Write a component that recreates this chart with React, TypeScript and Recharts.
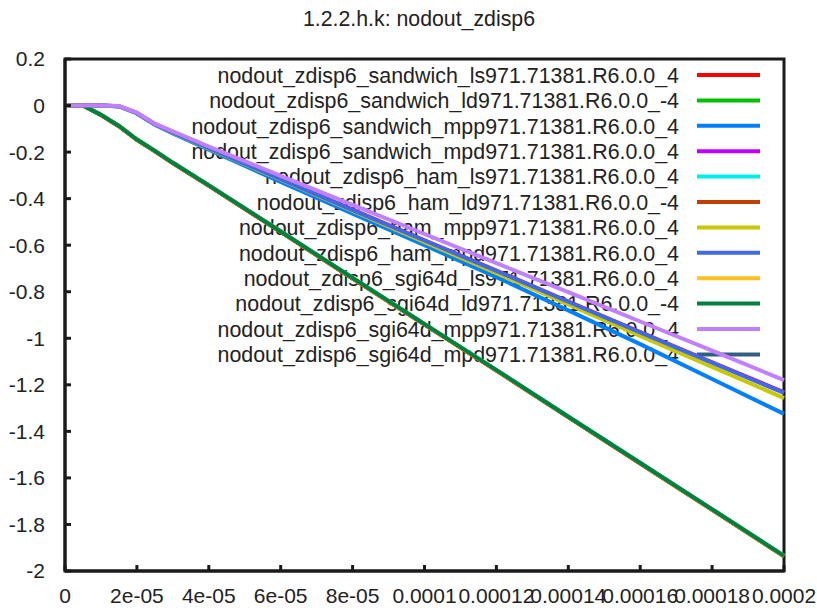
import React from 'react';
import { LineChart, Line, XAxis, YAxis, ReferenceArea } from 'recharts';

const FONT = '"Liberation Sans", Arial, Helvetica, sans-serif';

const tValues = [0, 0.5e-5, 1e-5, 1.5e-5, 2e-5, 2.5e-5, 3e-5, 4e-5, 6e-5, 8e-5, 1e-4, 1.2e-4, 1.4e-4, 1.6e-4, 1.8e-4, 2e-4];

const xTicks = [0, 2e-5, 4e-5, 6e-5, 8e-5, 1e-4, 1.2e-4, 1.4e-4, 1.6e-4, 1.8e-4, 2e-4];
const xTickLabels = ['0', '2e-05', '4e-05', '6e-05', '8e-05', '0.0001', '0.00012', '0.00014', '0.00016', '0.00018', '0.0002'];
const yTicks = [0.2, 0, -0.2, -0.4, -0.6, -0.8, -1, -1.2, -1.4, -1.6, -1.8, -2];
const yTickLabels = ['0.2', '0', '-0.2', '-0.4', '-0.6', '-0.8', '-1', '-1.2', '-1.4', '-1.6', '-1.8', '-2'];

const seriesNames = [
  'nodout_zdisp6_sandwich_ls971.71381.R6.0.0_4',
  'nodout_zdisp6_sandwich_ld971.71381.R6.0.0_-4',
  'nodout_zdisp6_sandwich_mpp971.71381.R6.0.0_4',
  'nodout_zdisp6_sandwich_mpd971.71381.R6.0.0_4',
  'nodout_zdisp6_ham_ls971.71381.R6.0.0_4',
  'nodout_zdisp6_ham_ld971.71381.R6.0.0_-4',
  'nodout_zdisp6_ham_mpp971.71381.R6.0.0_4',
  'nodout_zdisp6_ham_mpd971.71381.R6.0.0_4',
  'nodout_zdisp6_sgi64d_ls971.71381.R6.0.0_4',
  'nodout_zdisp6_sgi64d_ld971.71381.R6.0.0_-4',
  'nodout_zdisp6_sgi64d_mpp971.71381.R6.0.0_4',
  'nodout_zdisp6_sgi64d_mpd971.71381.R6.0.0_4',
];

const seriesColors = [
  '#ff0000', '#00c000', '#0080ff', '#c000ff', '#00eeee', '#c04000',
  '#c8c800', '#4169e1', '#ffc020', '#008040', '#c080ff', '#306080',
];

const sandwichLs = [0, 0, -0.041, -0.089, -0.147, -0.196, -0.247, -0.344, -0.543, -0.743, -0.941, -1.139, -1.339, -1.538, -1.737, -1.937];
const sandwichLd = [0, 0, -0.04, -0.088, -0.146, -0.195, -0.246, -0.343, -0.541, -0.741, -0.939, -1.137, -1.337, -1.536, -1.735, -1.935];
const sandwichMpp = [0, 0, 0, -0.004, -0.034, -0.083, -0.12, -0.19, -0.328, -0.465, -0.6, -0.737, -0.88, -1.025, -1.175, -1.325];
const sandwichMpd = [0, 0, 0, -0.003, -0.032, -0.08, -0.116, -0.182, -0.315, -0.447, -0.579, -0.709, -0.842, -0.973, -1.103, -1.232];
const hamLs = [0, 0, -0.039, -0.087, -0.145, -0.194, -0.245, -0.342, -0.54, -0.74, -0.938, -1.136, -1.336, -1.535, -1.734, -1.934];
const hamLd = [0, 0, -0.041, -0.089, -0.147, -0.197, -0.248, -0.345, -0.543, -0.743, -0.941, -1.139, -1.339, -1.538, -1.737, -1.937];
const hamMpp = [0, 0, 0, -0.003, -0.032, -0.08, -0.117, -0.185, -0.319, -0.453, -0.587, -0.72, -0.855, -0.99, -1.123, -1.257];
const hamMpd = [0, 0, 0, -0.003, -0.032, -0.08, -0.116, -0.183, -0.316, -0.449, -0.58, -0.71, -0.843, -0.975, -1.105, -1.235];
const sgi64dLs = [0, 0, -0.04, -0.088, -0.146, -0.195, -0.246, -0.343, -0.541, -0.742, -0.94, -1.138, -1.338, -1.537, -1.736, -1.936];
const sgi64dLd = [0, 0, -0.04, -0.088, -0.146, -0.195, -0.246, -0.343, -0.541, -0.741, -0.939, -1.137, -1.337, -1.536, -1.735, -1.935];
const sgi64dMpp = [0, 0, 0, -0.002, -0.03, -0.078, -0.111, -0.176, -0.302, -0.427, -0.552, -0.677, -0.802, -0.928, -1.053, -1.18];
const sgi64dMpd = [0, null, null, null, null, null, null, null, null, null, null, null, null, null, null, null];

const seriesValues = [
  sandwichLs, sandwichLd, sandwichMpp, sandwichMpd,
  hamLs, hamLd, hamMpp, hamMpd,
  sgi64dLs, sgi64dLd, sgi64dMpp, sgi64dMpd,
];

const data = tValues.map((t, i) => {
  const row: Record<string, number | null> = { t };
  seriesNames.forEach((n, k) => {
    row[n] = seriesValues[k][i];
  });
  return row;
});

const fmtX = (v: number) => {
  const i = xTicks.findIndex((x) => Math.abs(x - v) < 1e-12);
  return i >= 0 ? xTickLabels[i] : String(v);
};
const fmtY = (v: number) => {
  const i = yTicks.findIndex((y) => Math.abs(y - v) < 1e-9);
  return i >= 0 ? yTickLabels[i] : String(v);
};

const KeyBox = () => (
  <svg width={817} height={400} style={{ position: 'absolute', left: 0, top: 0 }}>
    <text x={419} y={26} textAnchor="middle" fontSize={21.3} fill="#222" fontFamily={FONT}>
      1.2.2.h.k: nodout_zdisp6
    </text>
    {seriesNames.map((n, i) => {
      const y = 75 + i * 25.4;
      return (
        <g key={n}>
          <text x={679} y={y} dy="0.36em" textAnchor="end" fontSize={21.4} fill="#222" fontFamily={FONT}>
            {n}
          </text>
          <line x1={697} x2={760} y1={y} y2={y} stroke={seriesColors[i]} strokeWidth={4} />
        </g>
      );
    })}
  </svg>
);

export default function App() {
  const tickStyle = { fill: '#222', fontSize: 21, fontFamily: FONT };
  return (
    <div style={{ position: 'absolute', left: 0, top: 0, width: 817, height: 608 }}>
      <KeyBox />
      <LineChart width={817} height={608} data={data} margin={{ top: 59, right: 33, bottom: 0, left: 0 }}>
        <ReferenceArea
          x1={0}
          x2={0.0002}
          y1={-2}
          y2={0.2}
          fill="#ffffff"
          fillOpacity={0}
          stroke="#1a1a1a"
          strokeWidth={3}
          strokeOpacity={1}
        />
        <XAxis
          dataKey="t"
          type="number"
          domain={[0, 0.0002]}
          ticks={xTicks}
          interval={0}
          tickFormatter={fmtX}
          tickSize={-6}
          tickMargin={23}
          height={37}
          stroke="#1a1a1a"
          strokeWidth={3}
          tick={tickStyle}
        />
        <YAxis
          type="number"
          domain={[-2, 0.2]}
          ticks={yTicks}
          interval={0}
          tickFormatter={fmtY}
          tickSize={-6}
          tickMargin={26}
          width={65}
          stroke="#1a1a1a"
          strokeWidth={3}
          tick={tickStyle}
        />
        {seriesNames.map((n, k) => (
          <Line
            key={n}
            type="linear"
            dataKey={n}
            name={n}
            stroke={seriesColors[k]}
            strokeWidth={4}
            dot={false}
            activeDot={false}
            isAnimationActive={false}
            connectNulls={false}
          />
        ))}
      </LineChart>
    </div>
  );
}
